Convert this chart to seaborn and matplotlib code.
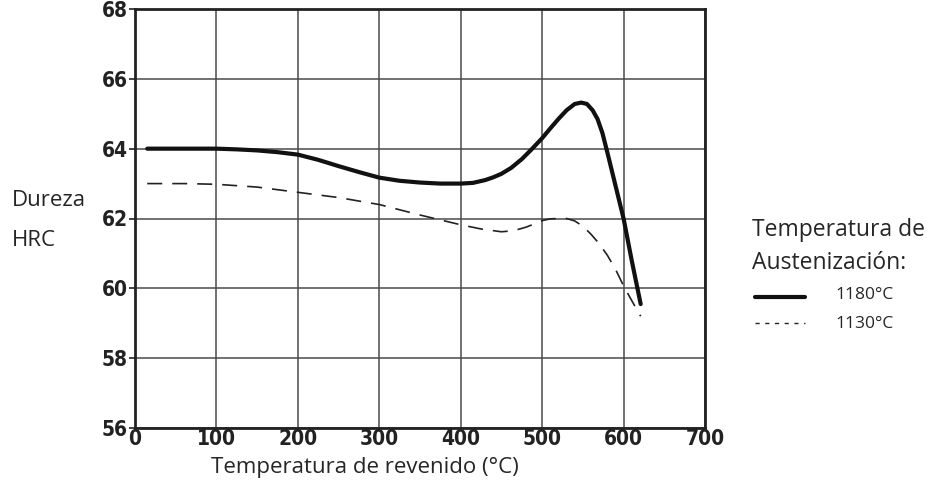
import matplotlib
matplotlib.use("Agg")
import matplotlib.pyplot as plt
import seaborn as sns
import pandas as pd
from matplotlib.lines import Line2D

# Data
temp_1180 = [15, 60, 100, 125, 150, 175, 200, 225, 250, 275, 300, 325, 350, 375, 400,
             415, 430, 440, 450, 462, 475, 487, 500, 510, 520, 530, 540, 548, 555, 562,
             568, 574, 580, 590, 600, 610, 621]
hrc_1180 = [64.0, 64.0, 64.0, 63.98, 63.95, 63.9, 63.83, 63.68, 63.5, 63.33, 63.17, 63.08,
            63.03, 63.0, 63.0, 63.02, 63.1, 63.18, 63.28, 63.45, 63.7, 63.98, 64.3, 64.58,
            64.85, 65.1, 65.28, 65.32, 65.28, 65.1, 64.85, 64.45, 63.9, 62.95, 62.0, 60.8,
            59.55]
temp_1130 = [15, 60, 100, 150, 200, 250, 300, 350, 400, 425, 450, 465, 480, 490, 500,
             510, 520, 530, 540, 550, 560, 570, 580, 590, 600, 610, 621]
hrc_1130 = [63.0, 63.0, 62.98, 62.9, 62.75, 62.6, 62.4, 62.1, 61.82, 61.7, 61.62, 61.65,
            61.75, 61.84, 61.94, 61.99, 62.0, 62.0, 61.93, 61.78, 61.55, 61.28, 60.95,
            60.55, 60.07, 59.65, 59.2]
xticks = [0, 100, 200, 300, 400, 500, 600, 700]
yticks = [56, 58, 60, 62, 64, 66, 68]
series_labels = ["1180°C", "1130°C"]

df = pd.concat([
    pd.DataFrame({"T": temp_1180, "HRC": hrc_1180, "serie": series_labels[0]}),
    pd.DataFrame({"T": temp_1130, "HRC": hrc_1130, "serie": series_labels[1]}),
])

sns.set_theme(style="white")
plt.rcParams["font.family"] = ["DejaVu Sans"]

fig = plt.figure(figsize=(9.32, 4.95), dpi=100)
ax = fig.add_axes([135/932, (495-428)/495, (705-135)/932, (428-9)/495])

sns.lineplot(data=df[df.serie == series_labels[0]], x="T", y="HRC", ax=ax,
             color="#111111", lw=3.0, sort=False, legend=False)
sns.lineplot(data=df[df.serie == series_labels[1]], x="T", y="HRC", ax=ax,
             color="#222222", lw=1.2, sort=False, legend=False)
ax.lines[0].set_solid_joinstyle("round")
ax.lines[1].set_linestyle((0, (9, 6)))

ax.set_xlim(0, 700)
ax.set_ylim(56, 68)
ax.set_xticks(xticks)
ax.set_yticks(yticks)
ax.set_xticklabels([str(v) for v in xticks], fontweight="bold", fontsize=15,
                   fontstretch="condensed")
ax.set_yticklabels([str(v) for v in yticks], fontweight="bold", fontsize=15,
                   fontstretch="condensed")
ax.grid(True, color="#4a4a4a", lw=1.1)
ax.tick_params(axis="y", length=4, width=1.2, pad=1, colors="#222222", direction="out", left=True)
ax.tick_params(axis="x", length=0, pad=1, colors="#222222")
for s in ax.spines.values():
    s.set_color("#222222")
    s.set_linewidth(2.0)
ax.set_xlabel("")
ax.set_ylabel("")

tf = ["Open Sans", "DejaVu Sans"]
fig.text(12/932, 1-201/495, "Dureza", fontsize=16, family=tf, va="center", ha="left")
fig.text(12/932, 1-240/495, "HRC", fontsize=16, family=tf, va="center", ha="left")
fig.text(365/932, 1-467/495, "Temperatura de revenido (°C)", fontsize=16, family=tf,
         va="center", ha="center")
fig.text(752/932, 1-230/495, "Temperatura de", fontsize=16.5, family=tf, va="center", ha="left")
fig.text(752/932, 1-263/495, "Austenización:", fontsize=16.5, family=tf, va="center", ha="left")
fig.add_artist(Line2D([755/932, 805/932], [1-297/495, 1-297/495], color="#111111", lw=3.0))
fig.add_artist(Line2D([755/932, 805/932], [1-323/495, 1-323/495], color="#222222", lw=1.0,
                      linestyle=(0, (3, 4))))
fig.text(835/932, 1-295/495, series_labels[0], fontsize=12.5, family=tf, va="center", ha="left")
fig.text(835/932, 1-324/495, series_labels[1], fontsize=12.5, family=tf, va="center", ha="left")

fig.savefig("out.png", dpi=100)
